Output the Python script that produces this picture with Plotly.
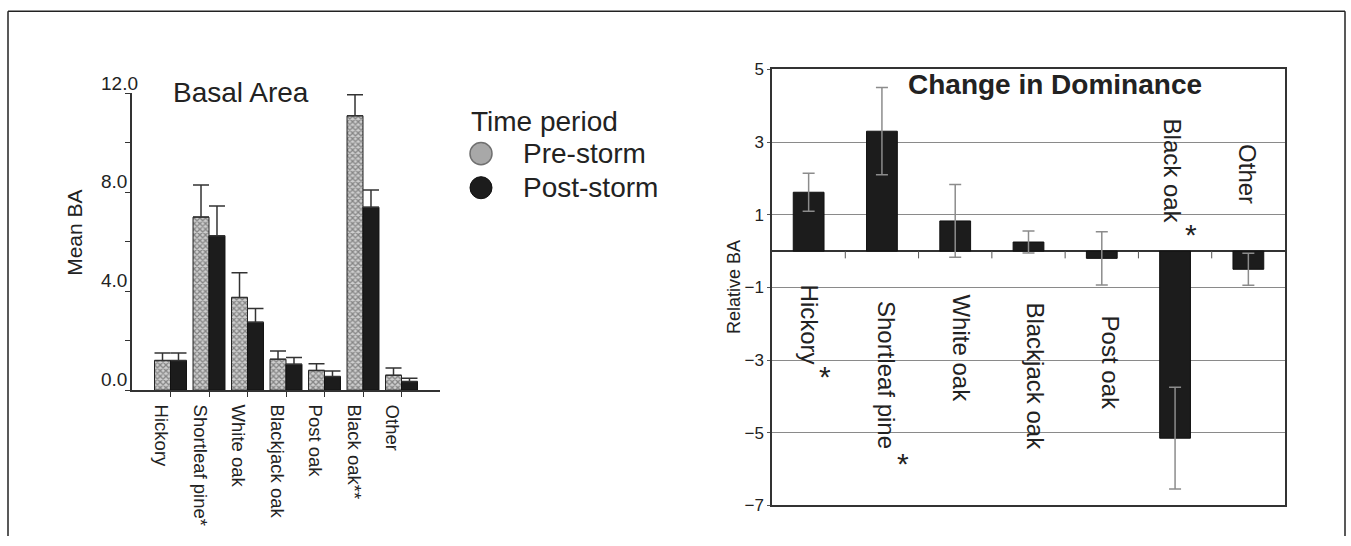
import plotly.graph_objects as go

# ---------------- data ----------------
categories_left = ["Hickory", "Shortleaf pine*", "White oak", "Blackjack oak",
                   "Post oak", "Black oak**", "Other"]
pre_storm = [1.2, 7.0, 3.75, 1.25, 0.8, 11.1, 0.6]
pre_storm_err = [0.3, 1.3, 1.0, 0.33, 0.27, 0.85, 0.3]
post_storm = [1.2, 6.25, 2.75, 1.05, 0.55, 7.4, 0.35]
post_storm_err = [0.3, 1.2, 0.55, 0.27, 0.23, 0.7, 0.13]
left_yticks = [0, 4, 8, 12]
left_yticklabels = ["0.0", "4.0", "8.0", "12.0"]

categories_right = ["Hickory", "Shortleaf pine", "White oak", "Blackjack oak",
                    "Post oak", "Black oak", "Other"]
relative_ba = [1.62, 3.3, 0.83, 0.25, -0.2, -5.15, -0.5]
relative_ba_err = [0.52, 1.2, 1.0, 0.3, 0.73, 1.4, 0.44]
significant = [True, True, False, False, False, True, False]
right_yticks = [5, 3, 1, -1, -3, -5, -7]

# ---------------- layout helpers (pixel geometry) ----------------
W, H = 1351, 546
# the photographed page is offset/compressed vertically; compensate
Y_OFF, Y_SCALE = 8.7, 0.963
def px(x):
    return x / W
def py(y):
    yf = (y - Y_OFF) / Y_SCALE
    return 1 - yf / H
def vs(d):
    return d / Y_SCALE

FONT = "Liberation Sans, Arial, sans-serif"
TXT = "#222"
xl = list(range(len(categories_left)))
xr = list(range(len(categories_right)))

fig = go.Figure()

fig.add_trace(go.Bar(
    x=xl, y=pre_storm, name="Pre-storm",
    marker=dict(color="#bcbcbc", line=dict(color="#222", width=1),
                pattern=dict(shape="x", size=4, solidity=0.55,
                             fgcolor="#3c3c3c", bgcolor="#cfcfcf")),
    error_y=dict(type="data", symmetric=False, array=pre_storm_err,
                 arrayminus=[0] * len(pre_storm_err), color="#333",
                 thickness=1.5, width=8),
    xaxis="x", yaxis="y", showlegend=False))
fig.add_trace(go.Bar(
    x=xl, y=post_storm, name="Post-storm",
    marker=dict(color="#1c1c1c", line=dict(color="#111", width=1)),
    error_y=dict(type="data", symmetric=False, array=post_storm_err,
                 arrayminus=[0] * len(post_storm_err), color="#333",
                 thickness=1.5, width=8),
    xaxis="x", yaxis="y", showlegend=False))

fig.add_trace(go.Bar(
    x=xr, y=relative_ba, name="Relative BA",
    marker=dict(color="#1c1c1c", line=dict(color="#111", width=1)),
    error_y=dict(type="data", array=relative_ba_err, color="#8c8c8c",
                 thickness=1.5, width=6),
    xaxis="x2", yaxis="y2", showlegend=False, width=0.42))

fig.update_layout(
    width=W, height=H, margin=dict(l=0, r=0, t=0, b=0),
    paper_bgcolor="white", plot_bgcolor="rgba(0,0,0,0)",
    barmode="group", bargap=0.17, bargroupgap=0,
    font=dict(family=FONT, color=TXT),
    xaxis=dict(domain=[px(132), px(440)], range=[-1, 7],
               tickvals=xl, ticktext=categories_left, tickangle=90,
               tickfont=dict(size=18.5, color=TXT),
               ticks="outside", ticklen=5, tickcolor="#333",
               showline=True, linecolor="#333", linewidth=1.5,
               showgrid=False, zeroline=False, anchor="y",
               ticklabelshift=-9, ticklabelstandoff=4),
    yaxis=dict(domain=[py(389), py(93)], range=[0, 12],
               tickvals=[0, 2, 4, 6, 8, 10, 12], showticklabels=False,
               ticks="outside", ticklen=5, tickcolor="#333",
               showline=True, linecolor="#333", linewidth=1.5,
               showgrid=False, zeroline=False, anchor="x"),
    xaxis2=dict(domain=[px(772), px(1285)], range=[-0.5, 6.5],
                showticklabels=False, ticks="", showgrid=False,
                zeroline=False, showline=True, mirror=True,
                linecolor="#333", linewidth=1.5, anchor="y2"),
    yaxis2=dict(domain=[py(504), py(69)], range=[-7, 5],
                tickvals=right_yticks, tickfont=dict(size=17, color=TXT),
                ticks="outside", ticklen=3, tickcolor="#555",
                showgrid=True, gridcolor="#8a8a8a", gridwidth=1,
                zeroline=True, zerolinecolor="#333", zerolinewidth=1.5,
                showline=True, mirror=True, linecolor="#333", linewidth=1.5,
                anchor="x2"),
)

def note(text, x, y, size, xref="paper", yref="paper", xa="center", ya="middle", **kw):
    return dict(text=text, xref=xref, yref=yref, x=x, y=y, xanchor=xa, yanchor=ya,
                showarrow=False, font=dict(size=size, color=TXT, family=FONT), **kw)

ann = []
ann.append(note("Basal Area", px(241), py(92), 28))
ann.append(note("Mean BA", px(75), py(232), 21, textangle=-90))
for v, t in zip(left_yticks, left_yticklabels):
    ann.append(note(t, px(99), v, 19, yref="y", xa="left", yshift=vs(10)))

ann.append(note("Time period", px(469), py(121), 28, xa="left"))
legend_items = [("Pre-storm", 153), ("Post-storm", 187)]
for name, yc in legend_items:
    ann.append(note(name, px(521), py(yc), 28, xa="left"))

ann.append(note("<b>Change in Dominance</b>", px(1055), py(84), 28))
ann.append(note("Relative BA", px(734), py(286), 18, textangle=-90))

label_offsets = [30, 46, 40, 47, 60, 25, 43]
label_xshift = [1, 4, 6, 7, 9, -3, -1]
star_pos = [(16, -121), (21, -205), None, None, None, (16, 16), None]
for i, cat in enumerate(categories_right):
    above = relative_ba[i] < 0 and abs(relative_ba[i]) > 0.3
    off = vs(label_offsets[i])
    ann.append(note(cat, xr[i], 0, 24, xref="x2", yref="y2",
                    ya="bottom" if above else "top", textangle=90,
                    xshift=label_xshift[i], yshift=off if above else -off))
    if significant[i]:
        sx, sy = star_pos[i]
        ann.append(note("*", xr[i], 0, 30, xref="x2", yref="y2",
                        xshift=sx, yshift=vs(sy)))
fig.update_layout(annotations=ann)

shapes = []
shapes.append(dict(type="circle", xref="paper", yref="paper",
                   x0=px(470), x1=px(492), y0=py(164), y1=py(142),
                   fillcolor="#a8a8a8", line=dict(color="#707070", width=1.5)))
shapes.append(dict(type="circle", xref="paper", yref="paper",
                   x0=px(470), x1=px(492), y0=py(198), y1=py(176),
                   fillcolor="#1c1c1c", line=dict(color="#111", width=1)))
for i in range(len(categories_right) - 1):
    b = xr[i] + 0.5
    shapes.append(dict(type="line", xref="x2", yref="y2", x0=b, x1=b,
                       ysizemode="pixel", yanchor=0, y0=0, y1=-vs(7),
                       line=dict(color="#555", width=1)))
shapes.append(dict(type="line", xref="paper", yref="paper", x0=px(8), x1=px(1345),
                   y0=py(11), y1=py(11), line=dict(color="#222", width=1.5)))
shapes.append(dict(type="line", xref="paper", yref="paper", x0=px(8), x1=px(8),
                   y0=py(11), y1=0, line=dict(color="#222", width=1.5)))
shapes.append(dict(type="line", xref="paper", yref="paper", x0=px(1345), x1=px(1345),
                   y0=py(11), y1=0, line=dict(color="#222", width=1.5)))
fig.update_layout(shapes=shapes)

fig.write_html("out.html")
